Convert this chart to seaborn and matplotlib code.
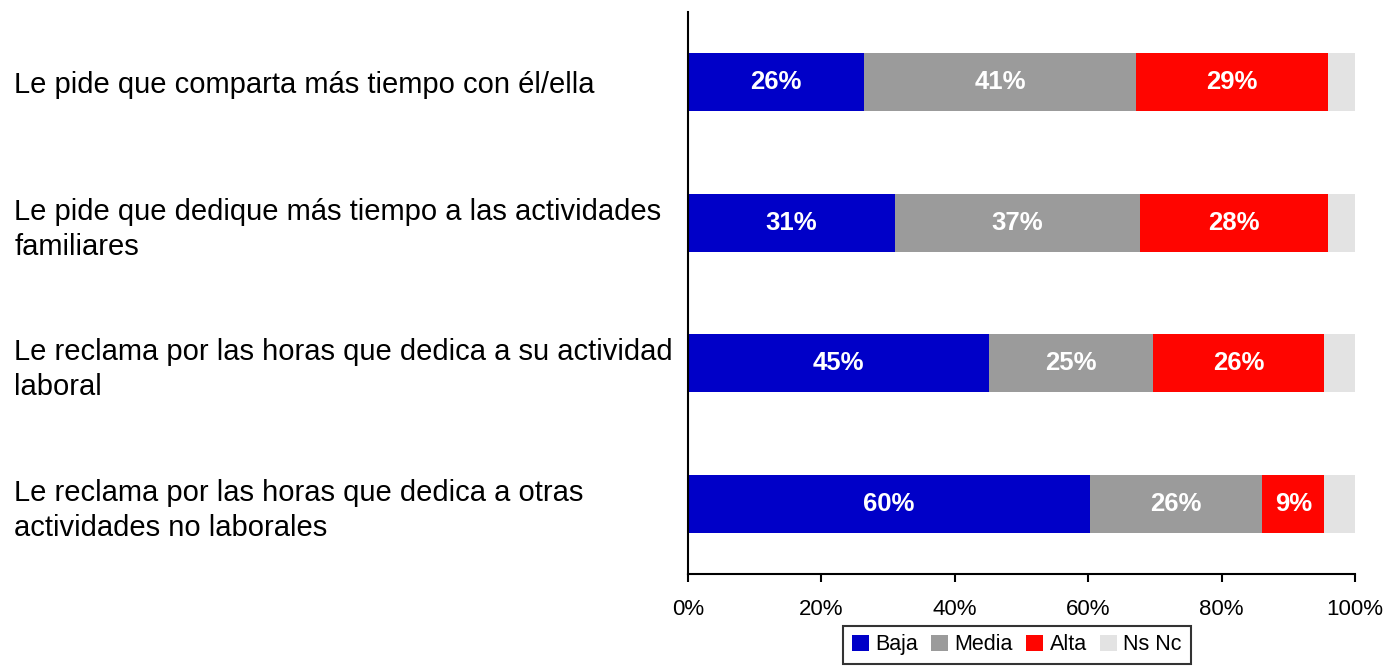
import numpy as np
import pandas as pd
import matplotlib
matplotlib.use("Agg")
import matplotlib.pyplot as plt
import seaborn as sns
from matplotlib.patches import Patch

# data (percent)
preguntas = [
    "Le pide que comparta más tiempo con él/ella",
    "Le pide que dedique más tiempo a las actividades\nfamiliares",
    "Le reclama por las horas que dedica a su actividad\nlaboral",
    "Le reclama por las horas que dedica a otras\nactividades no laborales",
]
baja = [26.4, 31.0, 45.1, 60.3]
media = [40.8, 36.8, 24.6, 25.8]
alta = [28.8, 28.2, 25.7, 9.3]
nsnc = [4.0, 4.0, 4.6, 4.6]

series = ["Baja", "Media", "Alta", "Ns Nc"]
colores = ["#0000C8", "#9B9B9B", "#FF0500", "#E3E3E3"]

df = pd.DataFrame({"pregunta": preguntas, "Baja": baja, "Media": media,
                   "Alta": alta, "Ns Nc": nsnc})
cum = df[series].cumsum(axis=1)

sns.set_style("white")
plt.rcParams["font.family"] = ["Liberation Sans", "DejaVu Sans"]
plt.rcParams["text.color"] = "black"
plt.rcParams["xtick.color"] = "black"
plt.rcParams["ytick.color"] = "black"

fig = plt.figure(figsize=(13.85, 6.68), dpi=100)
ax = fig.add_axes([688 / 1385, 94 / 668, 667 / 1385, 562 / 668])

# stacked bars: draw cumulative totals from the back to the front
for s, c in reversed(list(zip(series, colores))):
    sns.barplot(x=cum[s], y=df["pregunta"], orient="h", color=c,
                width=0.41, saturation=1, ax=ax, linewidth=0)

# value labels inside the segments
for i in range(len(df)):
    start = 0
    for s in series[:3]:
        v = df.loc[i, s]
        ax.text(start + v / 2, i, f"{v:.0f}%", ha="center", va="center",
                color="white", fontsize=18.5, fontweight="bold")
        start += v

ax.set_xlim(0, 100)
ax.set_ylim(3.5, -0.5)
ax.set_xticks(np.arange(0, 101, 20))
ax.set_xticklabels([f"{t}%" for t in range(0, 101, 20)], fontsize=16)
ax.set_xlabel("")
ax.set_ylabel("")

for side in ["top", "right"]:
    ax.spines[side].set_visible(False)
for side in ["left", "bottom"]:
    ax.spines[side].set_color("black")
    ax.spines[side].set_linewidth(1.5)

ax.tick_params(axis="x", direction="out", length=6, width=1.5, color="black",
               bottom=True, pad=12)
ax.tick_params(axis="y", length=0, pad=485, labelsize=21)
for lab in ax.get_yticklabels():
    lab.set_ha("left")
    lab.set_linespacing(1.32)

handles = [Patch(facecolor=c, edgecolor="none") for c in colores]
leg = ax.legend(handles, series, loc="upper center", ncol=4,
                bbox_to_anchor=(0.493, -0.092), fontsize=15.5, frameon=True,
                fancybox=False, edgecolor="black", handlelength=0.8,
                handleheight=0.8, handletextpad=0.3, columnspacing=0.6,
                borderpad=0.4, borderaxespad=0)
leg.get_frame().set_linewidth(1.5)

fig.savefig("out.png", dpi=100)
